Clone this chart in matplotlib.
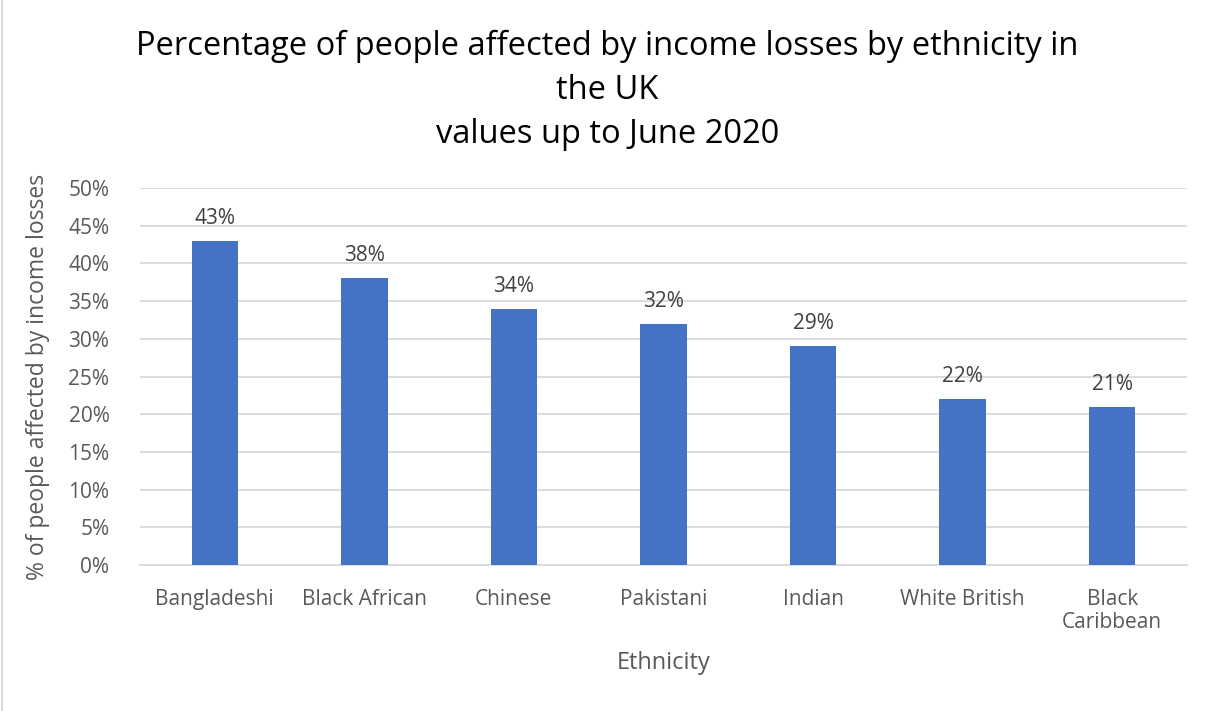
import matplotlib.pyplot as plt
import numpy as np

categories = ["Bangladeshi", "Black African", "Chinese", "Pakistani", "Indian",
              "White British", "Black\nCaribbean"]
values = [0.43, 0.38, 0.34, 0.32, 0.29, 0.22, 0.21]
yticks = np.arange(0, 0.51, 0.05)

plt.rcParams['font.family'] = ['Open Sans', 'DejaVu Sans']

fig = plt.figure(figsize=(12.15, 7.11), dpi=100)
ax = fig.add_axes([0.1152, 0.2053, 0.8618, 0.5303])

x = np.arange(len(categories))
ax.bar(x, values, width=0.31, color="#4472C4", zorder=3)

for xi, v in zip(x, values):
    ax.text(xi, v + 0.016, f"{round(v*100)}%", ha="center", va="bottom",
            fontsize=15, color="#404040")

ax.set_xlim(-0.5, len(categories) - 0.5)
ax.set_ylim(0, 0.5)
ax.set_yticks(yticks)
ax.set_yticklabels([f"{round(t*100)}%" for t in yticks], fontsize=15, color="#595959")
ax.set_xticks(x)
ax.set_xticklabels(categories, fontsize=15, color="#595959", linespacing=1.15)
ax.tick_params(length=0)
ax.tick_params(axis="x", pad=17)
ax.tick_params(axis="y", pad=22)
ax.yaxis.grid(True, color="#D9D9D9", linewidth=1.3, zorder=0)
for s in ["top", "right", "left"]:
    ax.spines[s].set_visible(False)
ax.spines["bottom"].set_color("#D9D9D9")
ax.spines["bottom"].set_linewidth(1.3)

ax.set_xlabel("Ethnicity", fontsize=17, color="#595959", labelpad=13)
ax.set_ylabel("% of people affected by income losses", fontsize=16.5, color="#595959", labelpad=13)

fig.text(0.5, 0.873, "Percentage of people affected by income losses by ethnicity in\nthe UK\nvalues up to June 2020",
         ha="center", va="center", fontsize=23.5, color="black", linespacing=1.45)

fig.add_artist(plt.Line2D([0.002, 0.002], [0, 1], color="#D9D9D9", linewidth=1.5))

fig.savefig("out.png", dpi=100)
